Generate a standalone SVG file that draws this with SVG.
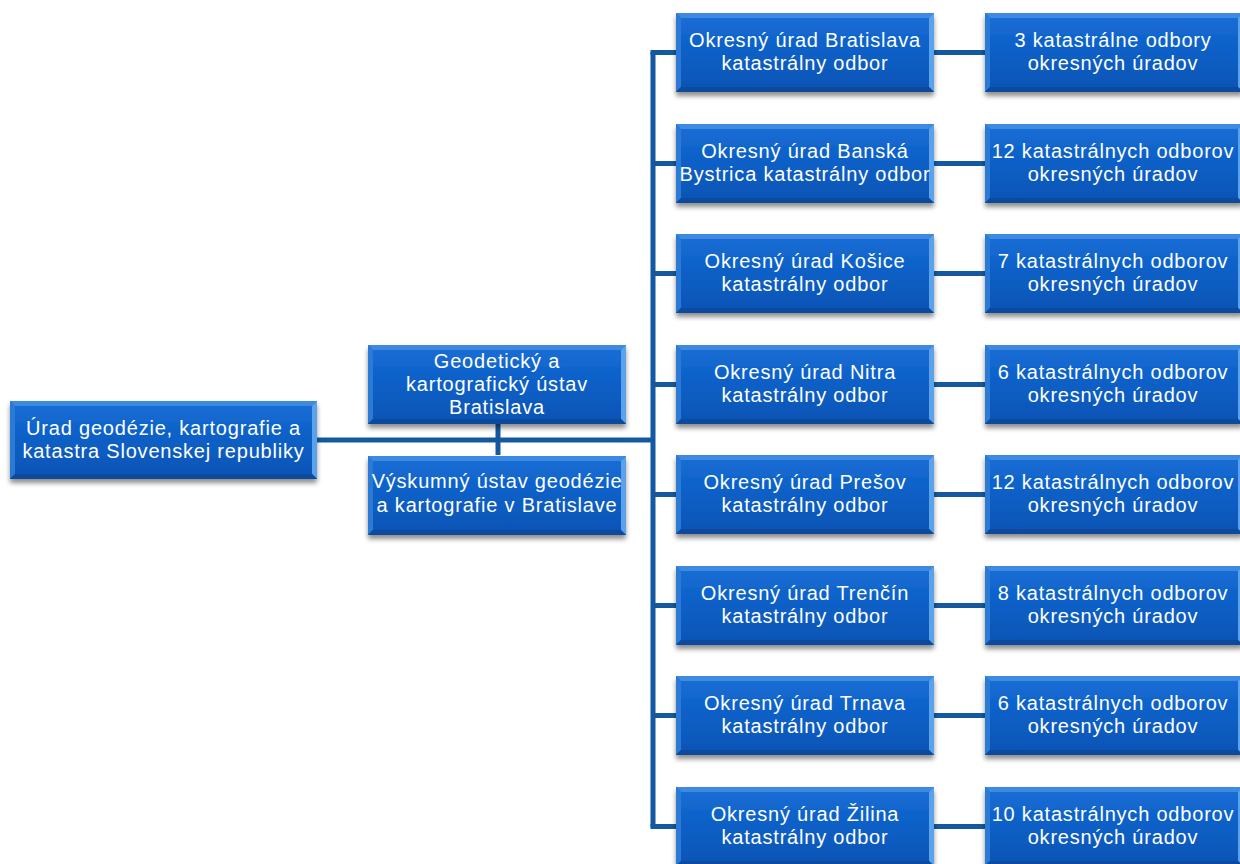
<svg xmlns="http://www.w3.org/2000/svg" xmlns:xlink="http://www.w3.org/1999/xlink" width="1240" height="864" viewBox="0 0 1240 864">
<style>
.t{font-family:"Liberation Sans","Open Sans",Arial,sans-serif;font-size:20px;letter-spacing:0.8px;fill:#ffffff;text-anchor:middle}
.c{stroke:#14599f;stroke-width:5;fill:none}
.face{fill:url(#gface)}
.bt{fill:#3d8ae0}
.bl{fill:#2a7ad6}
.br{fill:#5aa2ec}
.bb{fill:#0a4a9c}
</style>
<defs>
<linearGradient id="gface" x1="0" y1="0" x2="0" y2="1">
<stop offset="0" stop-color="#1a6fd6"/>
<stop offset="0.5" stop-color="#0a5fc6"/>
<stop offset="1" stop-color="#0654b4"/>
</linearGradient>
<filter id="sh" x="-10%" y="-10%" width="120%" height="140%">
<feGaussianBlur in="SourceAlpha" stdDeviation="2.5"/>
<feOffset dx="0" dy="4" result="b"/>
<feComponentTransfer><feFuncA type="linear" slope="0.45"/></feComponentTransfer>
<feMerge><feMergeNode/><feMergeNode in="SourceGraphic"/></feMerge>
</filter>
<g id="box" filter="url(#sh)">
<rect class="face" x="0" y="0" width="258" height="79"/>
<polygon class="bt" points="0,0 258,0 253,5 5,5"/>
<polygon class="bl" points="0,0 5,5 5,74 0,79"/>
<polygon class="br" points="258,0 258,79 253,74 253,5"/>
<polygon class="bb" points="0,79 5,74 253,74 258,79"/>
</g>
<g id="rootbox" filter="url(#sh)">
<rect class="face" x="0" y="0" width="307" height="78"/>
<polygon class="bt" points="0,0 307,0 302,5 5,5"/>
<polygon class="bl" points="0,0 5,5 5,73 0,78"/>
<polygon class="br" points="307,0 307,78 302,73 302,5"/>
<polygon class="bb" points="0,78 5,73 302,73 307,78"/>
</g>
</defs>
<rect width="1240" height="864" fill="#ffffff"/>
<g id="connectors">
<path class="c" d="M317,440 H653"/>
<path class="c" d="M498,423 V455"/>
<path class="c" d="M653,52 V827"/>
<path class="c" d="M650.5,52.5 H676 M650.5,826.5 H676"/>
<path class="c" d="M653,163.5 H676 M653,273.5 H676 M653,384.5 H676 M653,494.5 H676 M653,605.5 H676 M653,715.5 H676"/>
<path class="c" d="M934,52.5 H985 M934,163.5 H985 M934,273.5 H985 M934,384.5 H985 M934,494.5 H985 M934,605.5 H985 M934,715.5 H985 M934,826.5 H985"/>
</g>
<g id="n-root"><use xlink:href="#rootbox" x="10" y="401"/>
<text class="t" x="163.5" y="435">Úrad geodézie, kartografie a</text>
<text class="t" x="163.5" y="458">katastra Slovenskej republiky</text></g>
<g id="n-gku"><use xlink:href="#box" x="368" y="345"/>
<text class="t" x="497" y="368">Geodetický a</text>
<text class="t" x="497" y="391">kartografický ústav</text>
<text class="t" x="497" y="414">Bratislava</text></g>
<g id="n-vugk"><use xlink:href="#box" x="368" y="456"/>
<text class="t" x="497" y="488">Výskumný ústav geodézie</text>
<text class="t" x="497" y="512">a kartografie v Bratislave</text></g>
<g id="n-ba"><use xlink:href="#box" x="676" y="13"/>
<text class="t" x="805" y="47">Okresný úrad Bratislava</text>
<text class="t" x="805" y="70">katastrálny odbor</text></g>
<g id="n-bb"><use xlink:href="#box" x="676" y="124"/>
<text class="t" x="805" y="158">Okresný úrad Banská</text>
<text class="t" x="805" y="181">Bystrica katastrálny odbor</text></g>
<g id="n-ke"><use xlink:href="#box" x="676" y="234"/>
<text class="t" x="805" y="268">Okresný úrad Košice</text>
<text class="t" x="805" y="291">katastrálny odbor</text></g>
<g id="n-nr"><use xlink:href="#box" x="676" y="345"/>
<text class="t" x="805" y="379">Okresný úrad Nitra</text>
<text class="t" x="805" y="402">katastrálny odbor</text></g>
<g id="n-po"><use xlink:href="#box" x="676" y="455"/>
<text class="t" x="805" y="489">Okresný úrad Prešov</text>
<text class="t" x="805" y="512">katastrálny odbor</text></g>
<g id="n-tn"><use xlink:href="#box" x="676" y="566"/>
<text class="t" x="805" y="600">Okresný úrad Trenčín</text>
<text class="t" x="805" y="623">katastrálny odbor</text></g>
<g id="n-tt"><use xlink:href="#box" x="676" y="676"/>
<text class="t" x="805" y="710">Okresný úrad Trnava</text>
<text class="t" x="805" y="733">katastrálny odbor</text></g>
<g id="n-za"><use xlink:href="#box" x="676" y="787"/>
<text class="t" x="805" y="821">Okresný úrad Žilina</text>
<text class="t" x="805" y="844">katastrálny odbor</text></g>
<g id="r-ba"><use xlink:href="#box" x="985" y="13"/>
<text class="t" x="1113" y="47">3 katastrálne odbory</text>
<text class="t" x="1113" y="70">okresných úradov</text></g>
<g id="r-bb"><use xlink:href="#box" x="985" y="124"/>
<text class="t" x="1113" y="158">12 katastrálnych odborov</text>
<text class="t" x="1113" y="181">okresných úradov</text></g>
<g id="r-ke"><use xlink:href="#box" x="985" y="234"/>
<text class="t" x="1113" y="268">7 katastrálnych odborov</text>
<text class="t" x="1113" y="291">okresných úradov</text></g>
<g id="r-nr"><use xlink:href="#box" x="985" y="345"/>
<text class="t" x="1113" y="379">6 katastrálnych odborov</text>
<text class="t" x="1113" y="402">okresných úradov</text></g>
<g id="r-po"><use xlink:href="#box" x="985" y="455"/>
<text class="t" x="1113" y="489">12 katastrálnych odborov</text>
<text class="t" x="1113" y="512">okresných úradov</text></g>
<g id="r-tn"><use xlink:href="#box" x="985" y="566"/>
<text class="t" x="1113" y="600">8 katastrálnych odborov</text>
<text class="t" x="1113" y="623">okresných úradov</text></g>
<g id="r-tt"><use xlink:href="#box" x="985" y="676"/>
<text class="t" x="1113" y="710">6 katastrálnych odborov</text>
<text class="t" x="1113" y="733">okresných úradov</text></g>
<g id="r-za"><use xlink:href="#box" x="985" y="787"/>
<text class="t" x="1113" y="821">10 katastrálnych odborov</text>
<text class="t" x="1113" y="844">okresných úradov</text></g>
</svg>
